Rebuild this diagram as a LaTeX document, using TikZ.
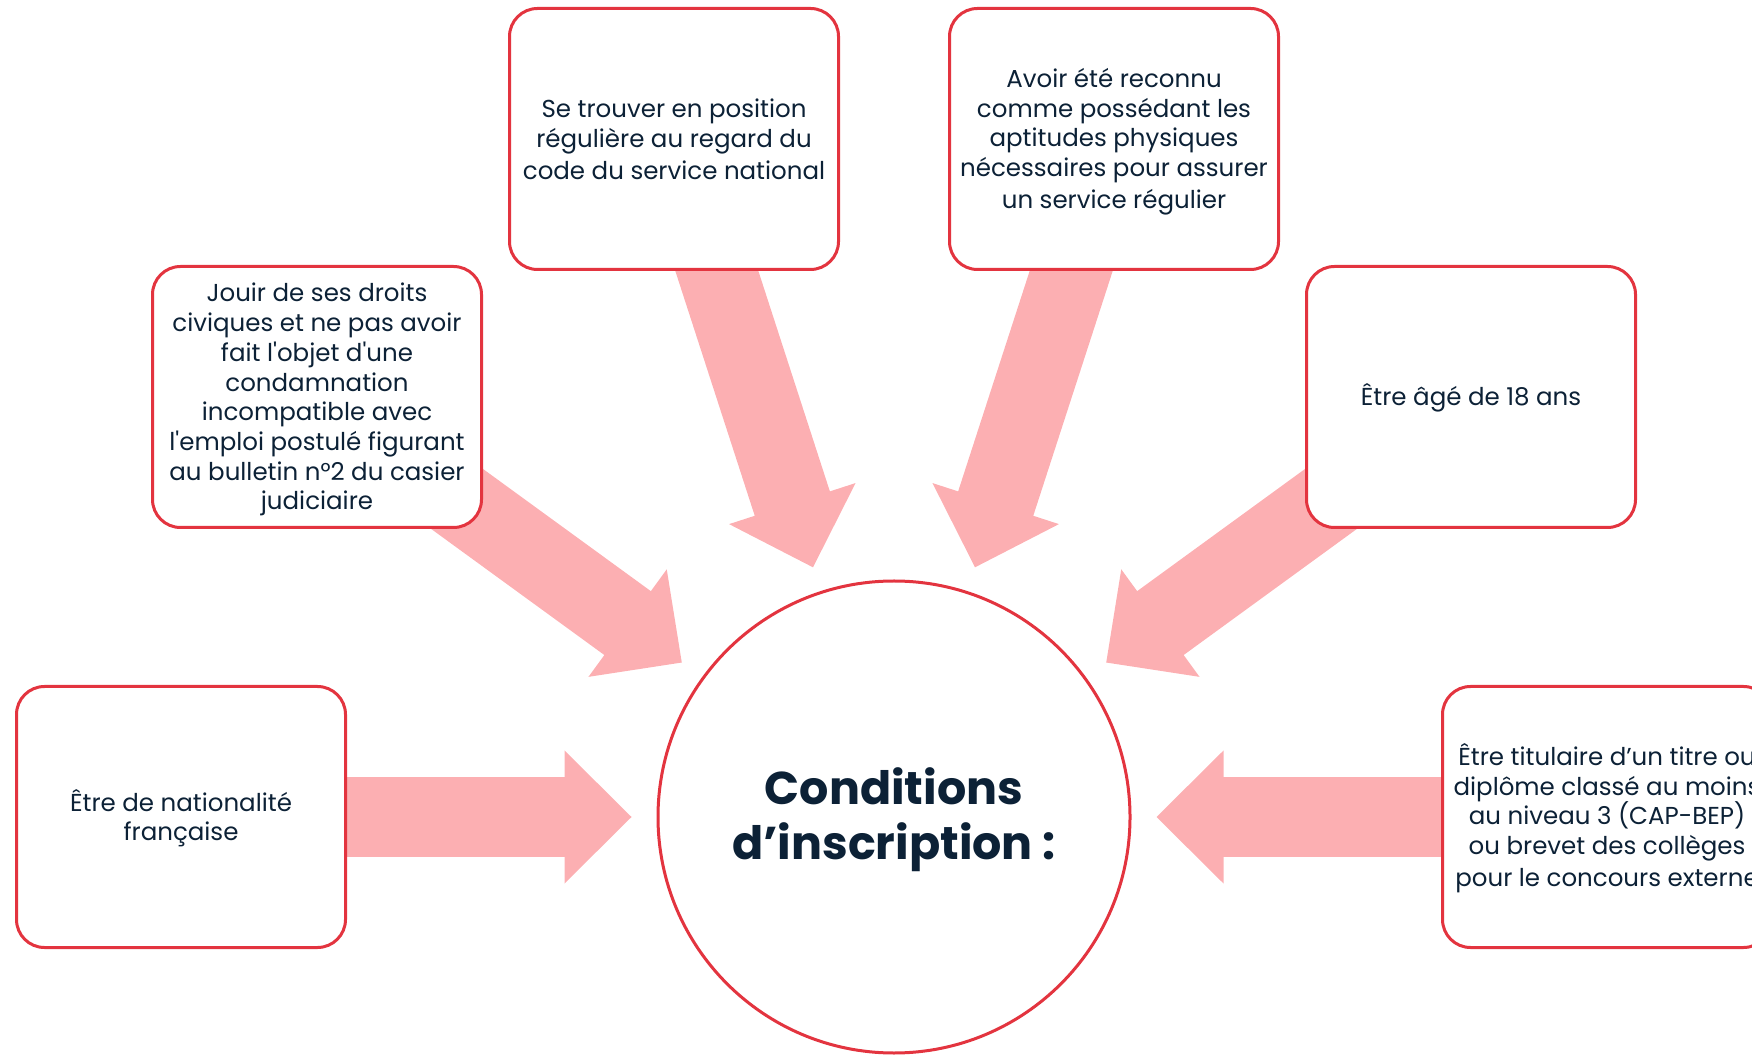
\documentclass[tikz,border=0pt]{standalone}
\usepackage{fontspec}
\setmainfont{Poppins}[Ligatures=TeXOff]
\usetikzlibrary{positioning}
\usetikzlibrary{arrows.meta}
\usetikzlibrary{backgrounds}

\definecolor{ink}{HTML}{0C2136}
\definecolor{rim}{HTML}{E3343F}
\definecolor{blush}{HTML}{FCAFB2}

\newcommand{\bs}{\rule[-5.5pt]{0pt}{29.7pt}}
\newcommand{\ts}{\rule[-12pt]{0pt}{55pt}}

\tikzset{
    cond/.style = {rectangle, rounded corners = 28pt, draw = rim, fill = white, line width = 3pt, minimum width = 329pt, minimum height = 261pt, inner sep = 0pt, align = center, text = ink, font = \fontsize{24.5}{29.7}\selectfont},
    push/.style = {blush, line width = 79pt, line cap = round, -{Triangle[width = 133pt, length = 67pt, line width = 0pt]}, shorten > = 25pt}
}

\begin{document}
\begin{tikzpicture}[x = 1pt, y = 1pt]

    \useasboundingbox (0,0) rectangle (1752,1055);
    \clip (0,0) rectangle (1752,1055);

    \begin{scope}[on grid]

        \node (C) at (894,238) [circle, draw = rim, line width = 3pt, fill = white, minimum size = 472pt, inner sep = 0pt, align = center, text = ink, font = \fontsize{46}{55}\selectfont\bfseries] {\ts Conditions\\d’inscription :\ts};

        % conditions autour du cercle
        \node (Nat) [cond, left = 713pt of C] {\bs Être de nationalité\\française\bs};
        \node (Dip) [cond, right = 713pt of C] {\bs Être titulaire d’un titre ou\\diplôme classé au moins\\au niveau 3 (CAP-BEP)\\ou brevet des collèges\\pour le concours externe\bs};
        \node (Civ) [cond, above left = 420pt and 577pt of C] {\bs Jouir de ses droits\\civiques et ne pas avoir\\fait l'objet d'une\\condamnation\\incompatible avec\\l'emploi postulé figurant\\au bulletin n°2 du casier\\judiciaire\bs};
        \node (Age) [cond, above right = 420pt and 577pt of C] {\bs Être âgé de 18 ans\bs};
        \node (Srv) [cond, above left = 678pt and 220pt of C] {\bs Se trouver en position\\régulière au regard du\\code du service national\bs};
        \node (Apt) [cond, above right = 678pt and 220pt of C] {\bs Avoir été reconnu\\comme possédant les\\aptitudes physiques\\nécessaires pour assurer\\un service régulier\bs};

    \end{scope}

    \begin{scope}[on background layer]
        \draw[push] (Nat.center) -- (C);
        \draw[push] (Dip.center) -- (C);
        \draw[push] (Civ.center) -- (C);
        \draw[push] (Age.center) -- (C);
        \draw[push] (Srv.center) -- (C);
        \draw[push] (Apt.center) -- (C);
    \end{scope}

\end{tikzpicture}
\end{document}
